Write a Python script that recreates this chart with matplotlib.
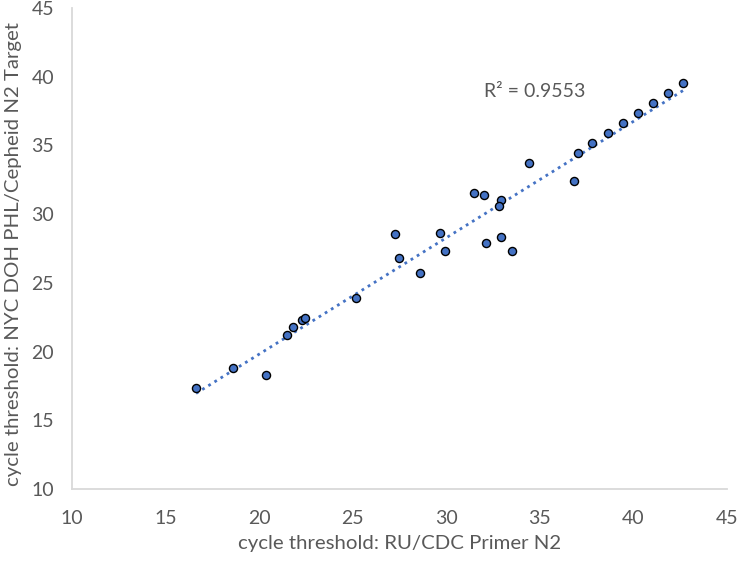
import numpy as np
import matplotlib
matplotlib.use("Agg")
import matplotlib.pyplot as plt

# ct values
ru_cdc = [16.63, 18.6, 20.35, 21.47, 21.81, 22.27, 22.45, 25.2,
          27.28, 27.46, 28.58, 29.65, 29.92, 31.5, 32.04, 32.14,
          32.93, 32.84, 32.91, 33.53, 34.43, 36.81, 37.03, 37.81,
          38.65, 39.45, 40.23, 41.05, 41.87, 42.66]
nyc_doh = [17.33, 18.8, 18.32, 21.23, 21.81, 22.3, 22.42, 23.92,
           28.54, 26.83, 25.7, 28.6, 27.32, 31.52, 31.42, 27.93,
           31.03, 30.62, 28.34, 27.32, 33.7, 32.44, 34.48, 35.2,
           35.91, 36.64, 37.37, 38.07, 38.8, 39.53]
r2_text = "R² = 0.9553"
x_title = "cycle threshold: RU/CDC Primer N2"
y_title = "cycle threshold: NYC DOH PHL/Cepheid N2 Target"

plt.rcParams['font.family'] = ['Lato', 'DejaVu Sans']
grey = '#595959'
blue = '#4472C4'

fig = plt.figure(figsize=(7.38, 5.62), dpi=100)
ax = fig.add_axes([72/738, 1 - 489/562, 655/738, 481/562])

x = np.array(ru_cdc)
y = np.array(nyc_doh)
k, b = np.polyfit(x, y, 1)
xl = np.array([x.min(), x.max()])
ax.plot(xl, k * xl + b, linestyle=(0, (1, 1.6)), color=blue, lw=2, zorder=2)

ax.scatter(x, y, s=34, color=blue, edgecolors='black', linewidths=1, zorder=3)

ax.text(34.75, 38.9, r2_text, ha='center', va='center', fontsize=14, color=grey)

ax.set_xlim(10, 45)
ax.set_ylim(10, 45)
ax.set_xticks(range(10, 46, 5))
ax.set_yticks(range(10, 46, 5))
ax.tick_params(length=0, labelsize=14, labelcolor=grey)
ax.tick_params(axis='x', pad=15)
ax.tick_params(axis='y', pad=13)
for s in ['top', 'right']:
    ax.spines[s].set_visible(False)
for s in ['left', 'bottom']:
    ax.spines[s].set_color('#D9D9D9')
    ax.spines[s].set_linewidth(1.3)

ax.set_xlabel(x_title, fontsize=14.7, color=grey)
ax.set_ylabel(y_title, fontsize=14.7, color=grey)
ax.xaxis.set_label_coords(0.5, -0.096)
ax.yaxis.set_label_coords(-0.076, 0.489)

fig.savefig("out.png", dpi=100)
